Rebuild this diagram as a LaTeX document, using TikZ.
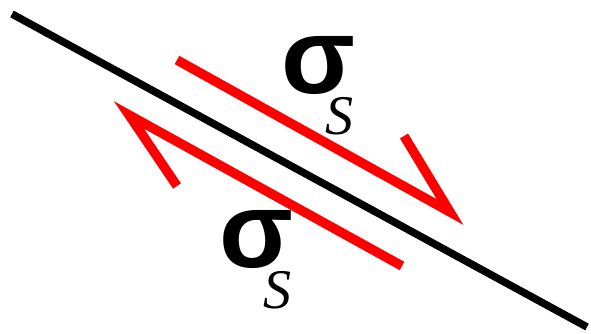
\documentclass[tikz,border=0pt]{standalone}
\usepackage{fontspec}
\setmainfont{Liberation Serif}
\newfontfamily\sigfont{Liberation Sans}
\usetikzlibrary{positioning}

\newcommand\stresssub[1]{\rlap{\hspace{44pt}\raisebox{-41pt}{\rmfamily\mdseries\itshape\fontsize{56}{56}\selectfont #1}}}

\begin{document}
\begin{tikzpicture}[
      x=1pt, y=-1pt,
      fault/.style={line width=7.5pt, black},
      shear/.style={line width=9.5pt, red, line join=miter, miter limit=20},
      sig/.style={inner sep=0pt, anchor=base west, font=\sigfont\bfseries\fontsize{108}{108}\selectfont}
    ]
    \useasboundingbox (0,0) rectangle (591,334);
    %% fault plane
    \coordinate (fa) at (12,14);
    \coordinate (fb) at (587,327);
    \draw[fault] (fa) -- (fb);
    %% upper block, moving down-right
    \coordinate (ua) at (177,60);
    \coordinate (ut) at (450,212);
    \coordinate (ub) at (404,136);
    \draw[shear] (ua) -- (ut) -- (ub);
    %% lower block, moving up-left
    \coordinate (la) at (402,266);
    \coordinate (lt) at (129,115);
    \coordinate (lb) at (177,186);
    \draw[shear] (la) -- (lt) -- (lb);
    %% labels
    \node[sig] (sigup) at (281,94) {\stresssub{S}σ};
    \node[sig] (siglo) at (219,267) {\stresssub{S}σ};
  \end{tikzpicture}
\end{document}
